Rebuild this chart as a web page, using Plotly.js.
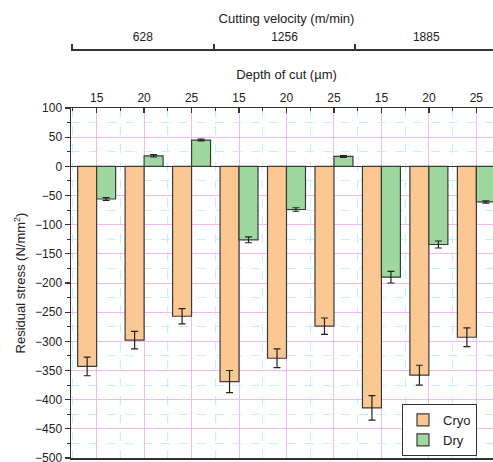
<!DOCTYPE html>
<html>
<head>
<meta charset="utf-8">
<script src="https://cdn.plot.ly/plotly-3.0.1.min.js"></script>
<style>
html,body{margin:0;padding:0;overflow:hidden;background:#fff;}
#chart{width:520px;height:462px;}
</style>
</head>
<body>
<div id="chart"></div>
<script>
// ---- data ----
const velocities = ['628', '1256', '1885'];
const depths = ['15', '20', '25'];
const depthLabels = ['15', '20', '25', '15', '20', '25', '15', '20', '25'];
const cryo = [-343, -298, -257, -369, -329, -274, -414, -358, -293];
const cryoErr = [16, 15, 13, 19, 16, 14, 21, 17, 16];
const dry = [-56, 18, 45, -126, -74, 17, -190, -134, -61];
const dryErr = [2.5, 2, 1.5, 5, 3, 1.5, 10, 6, 2];
const seriesNames = ['Cryo', 'Dry'];

// ---- layout helpers ----
const idx = depthLabels.map((_, i) => i);
const groupSize = depths.length;
const velCenters = velocities.map((_, k) => k * groupSize + (groupSize - 1) / 2);
const velBounds = velocities.map((_, k) => k * groupSize - 0.5).concat([velocities.length * groupSize - 0.5]);
const catBounds = idx.map(i => i - 0.5).concat([idx.length - 0.5]);

const W = 520, H = 462;
const ml = 60, mr = 18, mt = 0, mb = 4;
const pw = W - ml - mr, ph = H - mt - mb;
const fx = px => (px - ml) / pw;
const fy = py => (H - mb - py) / ph;

const font = {family: 'Liberation Sans, Arial, sans-serif', color: '#222'};
const magenta = '#f4b8f4';
const cyan = '#bff3f6';
const axisCol = '#333';

const err = (arr) => ({type: 'data', array: arr, visible: true, color: '#222', thickness: 1.2, width: 3.5});

const traces = [
  {type: 'bar', name: seriesNames[0], x: idx, y: cryo, error_y: err(cryoErr),
   marker: {color: '#fbc894', line: {color: '#3a3a3a', width: 1.2}}, hoverinfo: 'y'},
  {type: 'bar', name: seriesNames[1], x: idx, y: dry, error_y: err(dryErr),
   marker: {color: '#9ed89e', line: {color: '#3a3a3a', width: 1.2}}, hoverinfo: 'y'},
  // invisible helper so the velocity axis is drawn
  {type: 'scatter', mode: 'none', x: velCenters, y: velCenters.map(() => null),
   xaxis: 'x2', yaxis: 'y', showlegend: false, hoverinfo: 'skip'}
];

const layout = {
  width: W, height: H,
  margin: {l: ml, r: mr, t: mt, b: mb},
  paper_bgcolor: '#fff', plot_bgcolor: '#fff',
  font: Object.assign({size: 12}, font),
  barmode: 'group', bargap: 0.2, bargroupgap: 0,
  showlegend: true,
  legend: {x: fx(402), y: fy(404), xanchor: 'left', yanchor: 'top',
    bgcolor: '#fff', bordercolor: '#333', borderwidth: 1, itemwidth: 30,
    font: Object.assign({size: 13}, font), tracegroupgap: 0},
  xaxis: {
    domain: [fx(71), 1], range: [-0.54, 8.54], side: 'top',
    tickmode: 'array', tickvals: idx, ticktext: depthLabels,
    ticks: 'inside', ticklen: 5, tickwidth: 1.3, tickcolor: axisCol,
    tickfont: Object.assign({size: 12}, font),
    showline: true, linecolor: axisCol, linewidth: 1.5, mirror: true,
    showgrid: true, gridcolor: magenta, gridwidth: 1,
    minor: {tickmode: 'array', tickvals: catBounds, ticks: 'inside', ticklen: 3, tickwidth: 1, tickcolor: axisCol,
            showgrid: true, gridcolor: cyan, griddash: 'dash', gridwidth: 1},
    zeroline: false,
    title: {text: 'Depth of cut (µm)', font: Object.assign({size: 13}, font), standoff: 8}
  },
  xaxis2: {
    overlaying: 'x', anchor: 'free', side: 'top', position: fy(49),
    domain: [fx(67), 1], range: [-0.521, 8.604],
    tickmode: 'array', tickvals: velCenters, ticktext: velocities,
    ticks: '', tickfont: Object.assign({size: 12}, font), ticklabelstandoff: 3,
    showline: true, linecolor: axisCol, linewidth: 1.5,
    showgrid: false, zeroline: false,
    minor: {tickmode: 'array', tickvals: velBounds, ticks: 'outside', ticklen: 5, tickwidth: 2, tickcolor: axisCol, showgrid: false},
    title: {text: 'Cutting velocity (m/min)', font: Object.assign({size: 13}, font), standoff: 2}
  },
  yaxis: {
    domain: [0, fy(108)], range: [-500, 100],
    tickmode: 'linear', tick0: 0, dtick: 50,
    ticks: 'outside', ticklen: 5, tickwidth: 1.3, tickcolor: axisCol,
    tickfont: Object.assign({size: 12}, font), ticklabeloverflow: 'allow',
    showline: true, linecolor: axisCol, linewidth: 1.5,
    showgrid: true, gridcolor: magenta, gridwidth: 1,
    minor: {dtick: 25, ticks: 'outside', ticklen: 3, tickwidth: 1, tickcolor: axisCol,
            showgrid: true, gridcolor: cyan, griddash: 'dash', gridwidth: 1},
    zeroline: true, zerolinecolor: axisCol, zerolinewidth: 1.3,
    title: {text: 'Residual stress (N/mm<sup>2</sup>)', font: Object.assign({size: 13}, font), standoff: 6}
  }
};

Plotly.newPlot('chart', traces, layout, {displayModeBar: false, staticPlot: true});
</script>
</body>
</html>
